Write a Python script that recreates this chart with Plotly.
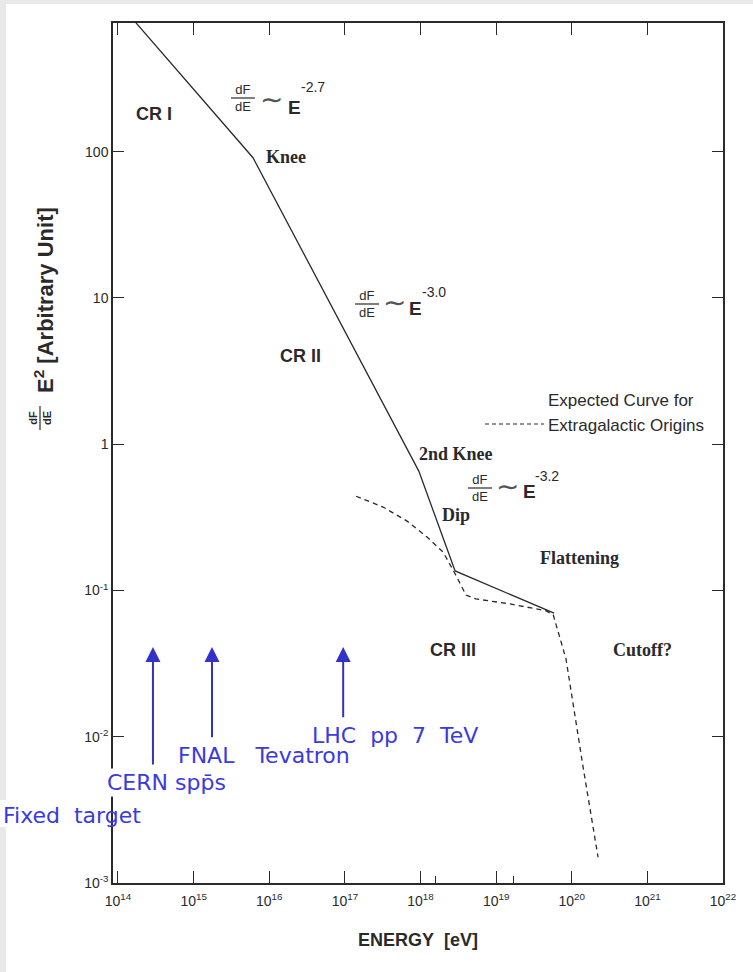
import numpy as np
import plotly.graph_objects as go

# ---- data -------------------------------------------------------------
# Observed all-particle spectrum (E^2 dF/dE, arbitrary units), break points
E_OBSERVED = [1.73e14, 6.1e15, 9.5e17, 2.87e18, 5.85e19]
FLUX_OBSERVED = [760, 91, 0.655, 0.136, 0.070]

# Expected curve for an extragalactic origin
E_EXTRAGAL = [1.41e17, 3.2e17, 6.65e17, 1.22e18, 1.99e18, 2.87e18, 4.0e18,
              5.4e18, 1.53e19, 4.6e19, 5.7e19, 6.6e19, 8.4e19, 1.42e20, 2.23e20]
FLUX_EXTRAGAL = [0.441, 0.372, 0.298, 0.232, 0.183, 0.130, 0.093,
                 0.0875, 0.081, 0.0725, 0.068, 0.053, 0.034, 0.0061, 0.0015]

# Accelerator equivalent energies (arrows)
ACCEL_NAMES = ["CERN\u00a0spp\u0304s", "FNAL\u00a0\u00a0\u00a0Tevatron",
               "LHC\u00a0\u00a0pp\u00a0\u00a07\u00a0\u00a0TeV"]
ACCEL_ENERGY = [2.9e14, 1.75e15, 9.5e16]
ARROW_TIP = [0.041, 0.041, 0.041]
ARROW_TAIL = [0.0063, 0.0097, 0.0133]
FIXED_TARGET = "Fixed\u00a0\u00a0target"

# Axis ticks
X_TICKS = [1e14, 1e15, 1e16, 1e17, 1e18, 1e19, 1e20, 1e21, 1e22]
X_TICK_TEXT = ["10<sup>%d</sup>" % k for k in range(14, 23)]
X_MINOR = [10 ** 18.2, 10 ** 19.23]
Y_TICKS = [1e-3, 1e-2, 1e-1, 1, 10, 100]
Y_TICK_TEXT = ["10<sup>-3</sup>", "10<sup>-2</sup>", "10<sup>-1</sup>", "1", "10", "100"]

# ---- layout geometry ---------------------------------------------------
W, H = 753, 972
L, R, T, B = 113, 723, 23, 883          # plot frame in pixels
X_RANGE = [13.934, 22.0]
Y_RANGE = [-3.0, 2.88]

SANS = "Liberation Sans, Arial, Helvetica, sans-serif"
SERIF = "Liberation Serif, Times New Roman, serif"
BLUE_TXT = "#3a3ae2"
BLUE_ARROW = "#3232c8"
INK = "#2a2a2a"


def paper(x, y):
    """pixel position -> paper coordinates"""
    return (x - L) / (R - L), (B - y) / (B - T)


fig = go.Figure()

fig.add_trace(go.Scatter(x=E_OBSERVED, y=FLUX_OBSERVED, mode="lines",
                         line=dict(color=INK, width=1.3), hoverinfo="skip",
                         showlegend=False))
fig.add_trace(go.Scatter(x=E_EXTRAGAL, y=FLUX_EXTRAGAL, mode="lines",
                         line=dict(color=INK, width=1.3, dash="5px,4px"),
                         hoverinfo="skip", showlegend=False))
# carrier trace for the secondary tick axis
fig.add_trace(go.Scatter(x=[X_MINOR[0]], y=[1], xaxis="x2", mode="markers",
                         marker=dict(opacity=0), hoverinfo="skip", showlegend=False))

annotations = []
shapes = []


def text(x, y, s, size, family=SANS, color=INK, anchor="center", **kw):
    px, py = paper(x, y)
    annotations.append(dict(x=px, y=py, xref="paper", yref="paper", text=s,
                            showarrow=False, xanchor=anchor, yanchor="middle",
                            font=dict(size=size, family=family, color=color), **kw))


def hline(x0, x1, y, **line):
    a, b = paper(x0, y)
    c, _ = paper(x1, y)
    shapes.append(dict(type="line", xref="paper", yref="paper", x0=a, x1=c,
                       y0=b, y1=b, line=line))


# region labels
for s, x, y in [("<b>CR I</b>", 154, 114), ("<b>CR II</b>", 300, 356),
                ("<b>CR III</b>", 453, 650)]:
    text(x, y, s, 18)
for s, x, y in [("<b>Knee</b>", 286, 157), ("<b>2nd Knee</b>", 456, 454),
                ("<b>Dip</b>", 456, 515), ("<b>Flattening</b>", 579, 558),
                ("<b>Cutoff?</b>", 642, 650)]:
    text(x, y, s, 18, family=SERIF)

# power-law slope formulas dF/dE ~ E^-gamma
formulas = [
    dict(exp="-2.7", frac=(243, 98), tilde=(271, 100), E=(294, 107), sup=(299, 87)),
    dict(exp="-3.0", frac=(367, 304), tilde=(394, 302), E=(415, 309), sup=(420, 292)),
    dict(exp="-3.2", frac=(480, 488), tilde=(507, 487), E=(529, 491), sup=(533, 476)),
]
for f in formulas:
    fx, fy = f["frac"]
    text(fx, fy, "dF<br>dE", 13)
    hline(fx - 12, fx + 12, fy, color=INK, width=1.2)
    text(*f["tilde"], "\u223c", 28, family="DejaVu Sans", color="#555")
    text(*f["E"], "<b>E</b>", 19)
    text(*f["sup"], f["exp"], 14, anchor="left")

# legend for the dashed curve
hline(485, 544, 424, color=INK, width=1.2, dash="4px,3px")
text(546, 400, "Expected Curve for", 17, anchor="left")
text(546, 425, "Extragalactic Origins", 17, anchor="left")

# accelerator arrows and labels
for e, tip, tail in zip(ACCEL_ENERGY, ARROW_TIP, ARROW_TAIL):
    annotations.append(dict(x=np.log10(e), y=np.log10(tip), ax=np.log10(e),
                            ay=np.log10(tail), xref="x", yref="y", axref="x",
                            ayref="y", text="", showarrow=True, arrowhead=2,
                            arrowsize=1.5, arrowwidth=2, arrowcolor=BLUE_ARROW,
                            standoff=0))
for s, x, y in zip(ACCEL_NAMES, [166, 264, 395], [782, 755, 735]):
    text(x, y, s, 22, family="DejaVu Sans", color=BLUE_TXT, bgcolor="white")
text(72, 815, FIXED_TARGET, 22, family="DejaVu Sans", color=BLUE_TXT)

# axis titles
text(418, 940, "<b>ENERGY\u00a0\u00a0[eV]</b>", 18)
text(44, 300, "<b>E<sup>2</sup> [Arbitrary Unit]</b>", 22, textangle=-90)
text(40, 418, "<b>dF<br>dE</b>", 11, textangle=-90)
shapes.append(dict(type="line", xref="paper", yref="paper",
                   x0=paper(40, 0)[0], x1=paper(40, 0)[0],
                   y0=paper(0, 406)[1], y1=paper(0, 430)[1],
                   line=dict(color=INK, width=1.2)))

# light page border (top and left)
for x0, y0, x1, y1 in [(0, 0, W, 4), (0, 4, 6, 800), (0, 827, 6, H)]:
    a, b = paper(x0, y0)
    c, d = paper(x1, y1)
    shapes.append(dict(type="rect", xref="paper", yref="paper", x0=a, x1=c,
                       y0=d, y1=b, fillcolor="#e9e9e9", line=dict(width=0),
                       layer="below"))

axis_common = dict(type="log", showgrid=False, zeroline=False, ticks="inside",
                   tickcolor=INK, tickwidth=1.2, showline=True, linecolor=INK,
                   linewidth=1.5, mirror="ticks")

fig.update_layout(
    width=W, height=H, autosize=False,
    margin=dict(l=L, r=W - R, t=T, b=H - B, pad=0),
    paper_bgcolor="white", plot_bgcolor="white",
    showlegend=False,
    xaxis=dict(axis_common, range=X_RANGE, tickvals=X_TICKS, ticktext=X_TICK_TEXT,
               ticklen=12, ticklabelstandoff=4,
               tickfont=dict(family=SANS, size=14, color=INK)),
    xaxis2=dict(type="log", range=X_RANGE, overlaying="x", anchor="y", side="bottom",
                tickvals=X_MINOR, ticks="inside", ticklen=7, tickcolor=INK,
                tickwidth=1.2, showticklabels=False, showgrid=False,
                zeroline=False, showline=False),
    yaxis=dict(axis_common, range=Y_RANGE, tickvals=Y_TICKS, ticktext=Y_TICK_TEXT,
               ticklen=11, tickfont=dict(family=SANS, size=14, color=INK)),
    annotations=annotations,
    shapes=shapes,
)

fig.write_html(
    "out.html",
    post_script="document.documentElement.style.overflow='hidden';"
                "document.body.style.overflow='hidden';"
                "document.body.style.margin='0';"
                "document.body.style.background='white';",
)
